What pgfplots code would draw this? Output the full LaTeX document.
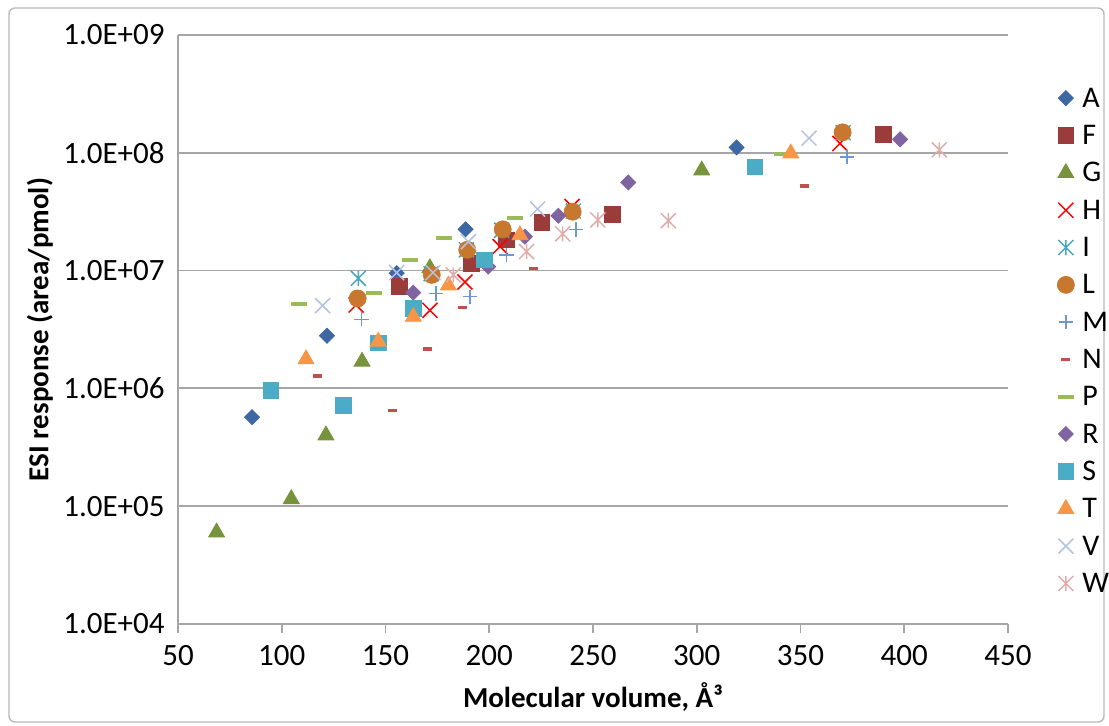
\documentclass[border=0pt]{standalone}
\usepackage{pgfplots}
\pgfplotsset{compat=1.18}
\usepackage{fontspec}
\setmainfont{Carlito}
\pgfdeclareplotmark{xstar}{%
  \pgfpathmoveto{\pgfqpoint{-.7071\pgfplotmarksize}{-.7071\pgfplotmarksize}}%
  \pgfpathlineto{\pgfqpoint{.7071\pgfplotmarksize}{.7071\pgfplotmarksize}}%
  \pgfpathmoveto{\pgfqpoint{-.7071\pgfplotmarksize}{.7071\pgfplotmarksize}}%
  \pgfpathlineto{\pgfqpoint{.7071\pgfplotmarksize}{-.7071\pgfplotmarksize}}%
  \pgfpathmoveto{\pgfqpoint{0pt}{-.7071\pgfplotmarksize}}%
  \pgfpathlineto{\pgfqpoint{0pt}{.7071\pgfplotmarksize}}%
  \pgfusepathqstroke
}
\definecolor{cA}{HTML}{3D68A3}
\definecolor{cF}{HTML}{9B3B3A}
\definecolor{cG}{HTML}{77933C}
\definecolor{cH}{HTML}{FF0000}
\definecolor{cI}{HTML}{4AA5BF}
\definecolor{cL}{HTML}{C8772F}
\definecolor{cM}{HTML}{6E97D1}
\definecolor{cN}{HTML}{C0504D}
\definecolor{cP}{HTML}{9BBB59}
\definecolor{cR}{HTML}{8064A2}
\definecolor{cS}{HTML}{4BACC6}
\definecolor{cT}{HTML}{F79646}
\definecolor{cV}{HTML}{B4C3E1}
\definecolor{cW}{HTML}{E0ADAB}
\definecolor{gridgray}{HTML}{A6A6A6}
\pgfplotsset{
  mk/.style={only marks, legend image code/.code={\draw[##1] plot coordinates {(0pt,0pt)};}},
}
\begin{document}
\begin{tikzpicture}
\useasboundingbox (-89pt,-51pt) rectangle (465.5pt,312pt);
\draw[gray!55, line width=0.7pt, rounded corners=3pt] (-84.5pt,-49pt) rectangle (463pt,308pt);
\begin{axis}[
  at={(0,0)}, anchor=south west,
  scale only axis, width=415pt, height=294.5pt,
  xmin=50, xmax=450, ymin=1e4, ymax=1e9, ymode=log,
  xtick={50,100,...,450}, xticklabels={50,100,150,200,250,300,350,400,450},
  ytick={1e4,1e5,1e6,1e7,1e8,1e9},
  yticklabels={1.0E+04,1.0E+05,1.0E+06,1.0E+07,1.0E+08,1.0E+09},
  yminorticks=false,
  axis x line*=bottom, axis y line*=left,
  axis line style={-, draw=gridgray, line width=0.8pt},
  xtick align=outside, ytick align=inside,
  major tick length=4.5pt,
  tick style={draw=gridgray, line width=0.8pt},
  ymajorgrids, major grid style={draw=gridgray, line width=0.9pt},
  ticklabel style={font=\fontsize{15.5}{18}\selectfont},
  yticklabel style={anchor=east, inner sep=0pt, xshift=-6.5pt},
  xticklabel style={anchor=north, inner sep=0pt, yshift=-6pt},
  xlabel={Molecular volume, Å³},
  ylabel={ESI response (area/pmol)},
  label style={font=\bfseries\fontsize{14.5}{17}\selectfont},
  xlabel style={at={(axis description cs:0.5,-0.1239)}, anchor=center},
  ylabel style={at={(axis description cs:-0.1663,0.5)}, anchor=center},
  legend style={draw=none, fill=none, at={(1.059,0.9087)}, anchor=north west,
    inner sep=0pt, row sep=9.65pt, column sep=4pt,
    font=\fontsize{15}{18}\selectfont,
    nodes={inner sep=0pt, text height=9pt, text depth=0pt}},
  legend cell align=left,
]
\addplot[mk, mark=square*, mark size=2.65pt, mark options={rotate=45, draw=cA, fill=cA}] coordinates {
 (85.7,5.7e5) (121.8,2.8e6) (155.4,9.5e6) (188.6,2.24e7) (319.2,1.11e8)};
\addlegendentry{A}
\addplot[mk, mark=square*, mark size=3.9pt, mark options={draw=cF, fill=cF}] coordinates {
 (156.7,7.3e6) (191.5,1.15e7) (208.4,1.82e7) (225.3,2.55e7) (259.3,3.0e7) (389.9,1.44e8)};
\addlegendentry{F}
\addplot[mk, mark=triangle*, mark size=4.6pt, mark options={draw=cG, fill=cG}] coordinates {
 (68.6,6.0e4) (104.6,1.15e5) (121.3,4.0e5) (138.7,1.69e6) (171.4,1.05e7) (302.4,7.1e7)};
\addlegendentry{G}
\addplot[mk, mark=x, mark size=5.3pt, mark options={draw=cH, line width=0.75pt}] coordinates {
 (135.8,5.1e6) (171.4,4.6e6) (188.3,8.0e6) (205.2,1.6e7) (239.9,3.5e7) (369.0,1.2e8)};
\addlegendentry{H}
\addplot[mk, mark=xstar, mark size=5.3pt, mark options={draw=cI, line width=0.75pt}] coordinates {
 (136.9,8.6e6) (172.0,9.4e6) (189.0,1.5e7) (206.0,2.2e7) (240.5,3.2e7) (370.5,1.48e8)};
\addlegendentry{I}
\addplot[mk, mark=*, mark size=4.25pt, mark options={draw=cL, fill=cL}] coordinates {
 (136.6,5.8e6) (172.3,9.2e6) (189.4,1.5e7) (206.5,2.24e7) (240.2,3.16e7) (370.3,1.49e8)};
\addlegendentry{L}
\addplot[mk, mark=+, mark size=3.6pt, mark options={draw=cM, line width=0.75pt}] coordinates {
 (138.5,3.86e6) (174.3,6.4e6) (190.7,6.0e6) (208.4,1.36e7) (241.8,2.24e7) (372.3,9.2e7)};
\addlegendentry{M}
\addplot[mk, mark=-, mark size=2.25pt, mark options={draw=cN, line width=1.75pt, line cap=butt}] coordinates {
 (117.3,1.27e6) (153.3,6.5e5) (170.3,2.15e6) (187.2,4.88e6) (221.2,1.04e7) (351.8,5.2e7)};
\addlegendentry{N}
\addplot[mk, mark=-, mark size=4pt, mark options={draw=cP, line width=2pt, line cap=butt}] coordinates {
 (108.5,5.2e6) (144.5,6.5e6) (161.8,1.23e7) (178.3,1.88e7) (212.4,2.81e7) (340.9,9.8e7)};
\addlegendentry{P}
\addplot[mk, mark=square*, mark size=2.65pt, mark options={rotate=45, draw=cR, fill=cR}] coordinates {
 (163.4,6.5e6) (199.5,1.08e7) (217.2,1.94e7) (233.3,2.92e7) (267.0,5.6e7) (398.0,1.3e8)};
\addlegendentry{R}
\addplot[mk, mark=square*, mark size=3.9pt, mark options={draw=cS, fill=cS}] coordinates {
 (94.7,9.6e5) (129.7,7.2e5) (146.5,2.44e6) (163.4,4.78e6) (197.6,1.23e7) (328.1,7.6e7)};
\addlegendentry{S}
\addplot[mk, mark=triangle*, mark size=4.6pt, mark options={draw=cT, fill=cT}] coordinates {
 (111.7,1.77e6) (146.5,2.5e6) (163.4,4.06e6) (180.3,7.5e6) (214.8,2.0e7) (345.3,9.9e7)};
\addlegendentry{T}
\addplot[mk, mark=x, mark size=5.3pt, mark options={draw=cV, line width=0.75pt}] coordinates {
 (119.7,5.04e6) (155.4,9.6e6) (172.9,9.6e6) (189.9,1.76e7) (223.3,3.33e7) (354.1,1.33e8)};
\addlegendentry{V}
\addplot[mk, mark=xstar, mark size=5.3pt, mark options={draw=cW, line width=0.75pt}] coordinates {
 (182.7,9.2e6) (218.0,1.45e7) (235.4,2.05e7) (252.3,2.69e7) (286.3,2.65e7) (416.9,1.06e8)};
\addlegendentry{W}
\end{axis}
\end{tikzpicture}
\end{document}
